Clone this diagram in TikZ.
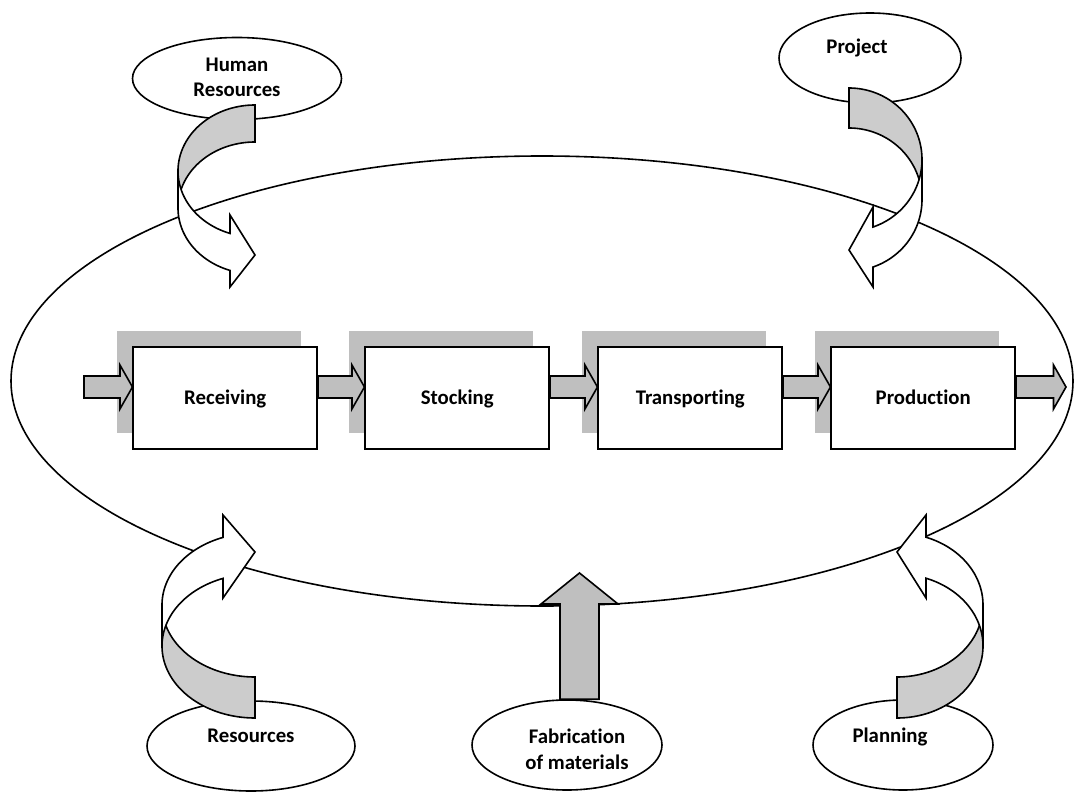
\documentclass[tikz,border=0pt]{standalone}
\usepackage{fontspec}
\setmainfont{Carlito}[Ligatures=NoCommon]
\usetikzlibrary{shapes.geometric,shadows,calc}

\definecolor{shadowgray}{RGB}{191,191,191}
\definecolor{bandgray}{RGB}{204,204,204}

\tikzset{
  ink/.style={draw=black, line width=1.6pt, line join=miter},
  labelfont/.style={font=\bfseries\fontsize{20.8}{24.5}\selectfont},
  procbox/.style={ink, labelfont, fill=white, rectangle, inner sep=0pt,
    minimum width=184pt, minimum height=102pt, text height=17pt, text depth=4.4pt,
    general shadow={fill=shadowgray, shadow xshift=-16pt, shadow yshift=16pt}},
  source/.style={ink, fill=white, ellipse, inner sep=0pt},
  sourcetext/.style={labelfont, inner sep=0pt, anchor=base},
  flatarrow/.style={ink, fill=shadowgray},
  bandback/.style={ink, fill=bandgray},
  bandfront/.style={ink, fill=white},
}

% straight block arrow from the x of #1 to the tip #2 (horizontal)
\newcommand\flowarrow[2]{%
  \draw[flatarrow] let \p1=(#1), \p2=(#2) in
    (\x1,\y2+11pt) -- (\x2-12.5pt,\y2+11pt) -- (\x2-12.5pt,\y2+22pt) -- (\x2,\y2)
    -- (\x2-12.5pt,\y2-22pt) -- (\x2-12.5pt,\y2-11pt) -- (\x1,\y2-11pt) -- cycle;}

% twisted ribbon arrow; origin at the outer corner of the flat end
% #1 reach, #2 band thickness, #3 half height, #4 head length,
% #5 head inner corner, #6 tip, #7 head outer corner
\newcommand\ribbonarrow[7]{%
  \pgfmathsetmacro\ribang{acos(-#4/#1)}%
  \filldraw[bandback] plot[domain=270:180] ({#1*cos(\x)},{#3+#3*sin(\x)})
    -- plot[domain=180:270] ({#1*cos(\x)},{#2+#3+#3*sin(\x)}) -- cycle;
  \filldraw[bandfront] plot[domain=180:\ribang] ({#1*cos(\x)},{#3+#3*sin(\x)})
    -- (-#4,#5) -- (0,#6) -- (-#4,#7)
    -- plot[domain=\ribang:180] ({#1*cos(\x)},{#2+#3+#3*sin(\x)}) -- cycle;}

\begin{document}
\begin{tikzpicture}[x=1pt,y=-1pt,samples=48]
\useasboundingbox (0,0) rectangle (1077,792);

% the enclosing cycle
\node[ink, ellipse, inner sep=0pt, minimum width=1062pt, minimum height=450pt] (ring) at (542,381) {};

% process chain
\node[procbox] (rec)  at (225.25,398) {Receiving};
\node[procbox] (sto)  at (457.25,398) {Stocking};
\node[procbox] (tra)  at (690.25,398) {Transporting};
\node[procbox] (prod) at (923.25,398) {Production};

\coordinate (src)  at (84,387);
\coordinate (sink) at (1066,387);
\flowarrow{src}{[yshift=11pt]rec.west}
\flowarrow{rec.east}{[yshift=11pt]sto.west}
\flowarrow{sto.east}{[yshift=11pt]tra.west}
\flowarrow{tra.east}{[yshift=11pt]prod.west}
\flowarrow{prod.east}{sink}

% inputs
\node[source, minimum width=209pt, minimum height=82pt] (hr)   at (237,78.5) {};
\node[source, minimum width=182pt, minimum height=90pt] (proj) at (870,58) {};
\node[source, minimum width=208pt, minimum height=90pt] (res)  at (251,746) {};
\node[source, minimum width=190pt, minimum height=90pt] (fab)  at (567,745) {};
\node[source, minimum width=180pt, minimum height=90pt] (plan) at (903,745) {};

\node[sourcetext] (hrtext)   at (237,96)    {\begin{tabular}[b]{@{}c@{}}Human\\Resources\end{tabular}};
\node[sourcetext] (projtext) at (857,53.3)  {Project};
\node[sourcetext] (restext)  at (251,742.7) {Resources};
\node[sourcetext] (fabtext)  at (577,769.3) {\begin{tabular}[b]{@{}c@{}}Fabrication\\[1.5pt]of materials\end{tabular}};
\node[sourcetext] (plantext) at (890,742.7) {Planning};

% feeding arrows
\begin{scope}[shift={(255,105)}]
  \ribbonarrow{77}{37}{66}{25}{110}{150}{182}
\end{scope}
\begin{scope}[shift={(849,88)}, xscale=-1]
  \ribbonarrow{73}{40}{71.5}{24}{119}{162}{199}
\end{scope}
\begin{scope}[shift={(255,718)}, yscale=-1]
  \ribbonarrow{93}{41}{72}{32}{120}{166}{203}
\end{scope}
\begin{scope}[shift={(897,718)}, xscale=-1, yscale=-1]
  \ribbonarrow{86}{41}{72}{29}{120}{166}{203}
\end{scope}

\coordinate (fabtip) at (579.5,573);
\draw[flatarrow] let \p1=(fabtip), \p2=(fab.north) in
  (\x1-19.5pt,\y2) -- (\x1-19.5pt,\y1-31pt) -- (\x1-38.5pt,\y1-31pt) -- (\x1,\y1)
  -- (\x1+38.5pt,\y1-31pt) -- (\x1+19.5pt,\y1-31pt) -- (\x1+19.5pt,\y2) -- cycle;
\end{tikzpicture}
\end{document}
